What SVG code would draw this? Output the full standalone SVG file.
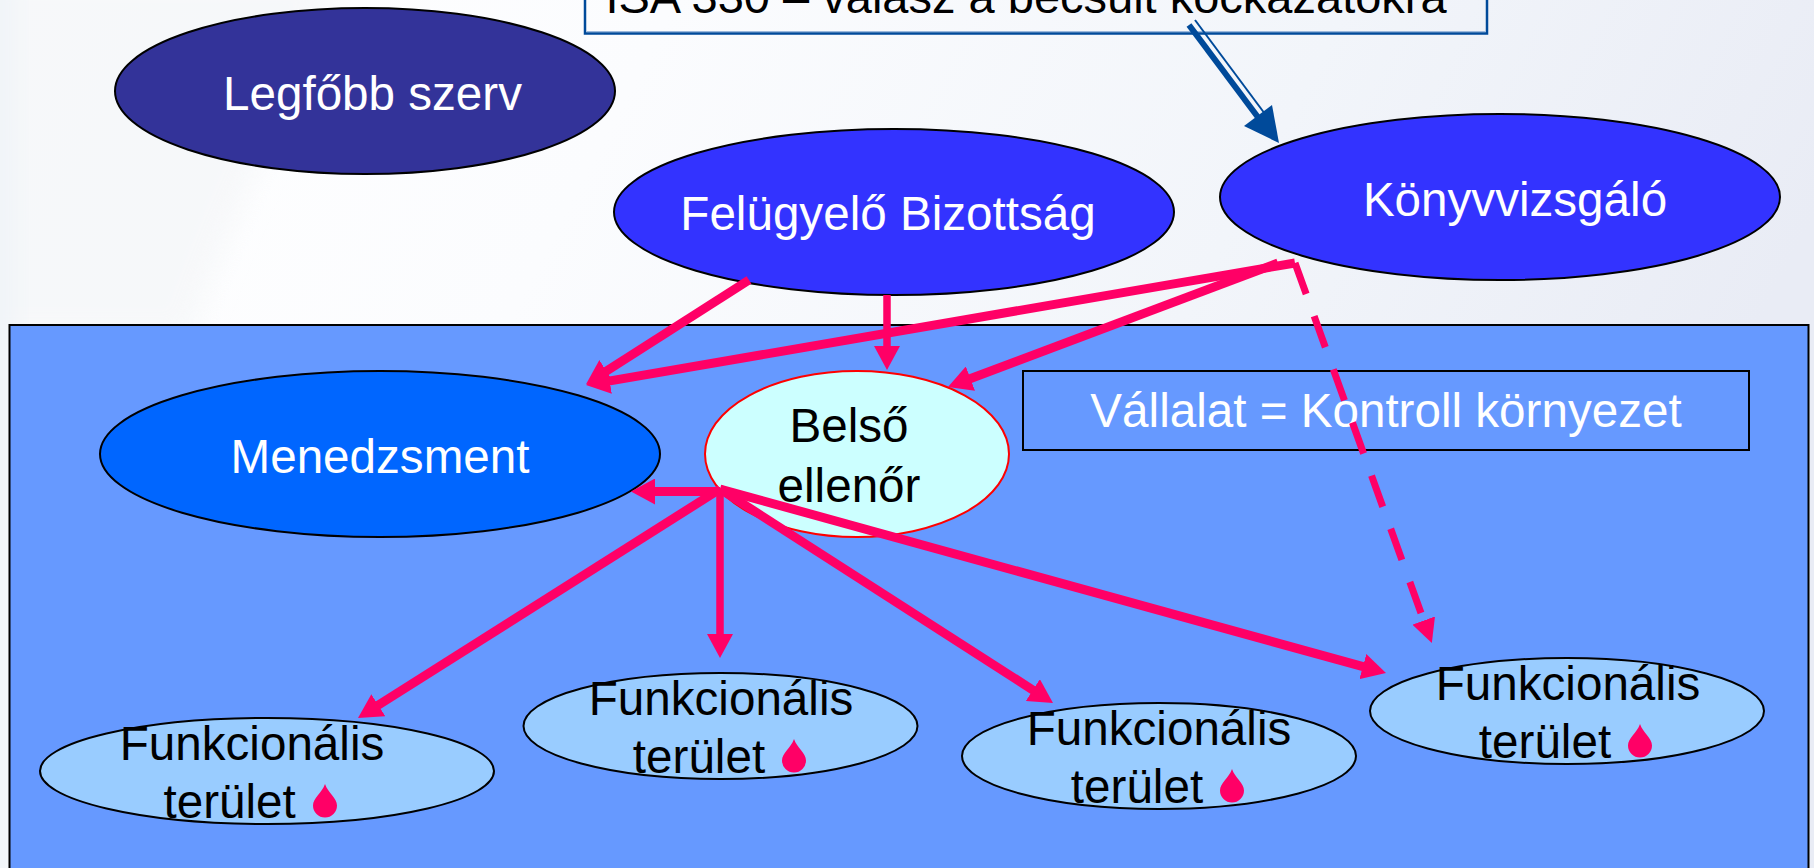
<svg xmlns="http://www.w3.org/2000/svg" width="1814" height="868" viewBox="0 0 1814 868">
<style>
text{font-family:"Liberation Sans",Arial,sans-serif;font-size:47.6px;text-anchor:middle}
.w{fill:#fff}.k{fill:#000}
.n{stroke:#000;stroke-width:2}
.c{fill:none;stroke:#f06;stroke-width:9}
.v{stroke-width:7.5}
.lf{fill:#9cf}
.drop{fill:#f06}
.b{fill:none;stroke:#004a9a}
</style>
<defs>
<linearGradient id="bg" x1="0" y1="0" x2="1" y2="0.25"><stop offset="0" stop-color="#fff"/><stop offset="0.35" stop-color="#fbfcfe"/><stop offset="0.7" stop-color="#f2f5fa"/><stop offset="1" stop-color="#e9ecf5"/></linearGradient>
<filter id="soft" x="-30%" y="-30%" width="160%" height="160%"><feGaussianBlur stdDeviation="14"/></filter>
<marker id="a" markerUnits="userSpaceOnUse" markerWidth="26" markerHeight="26" refX="4" refY="13" orient="auto"><path d="M0 0L24 13L0 26z" fill="#f06"/></marker>
<marker id="d" markerUnits="userSpaceOnUse" markerWidth="24" markerHeight="24" refX="-8" refY="12" orient="auto"><path d="M0 0L24 12L0 24z" fill="#f06"/></marker>
</defs>
<rect width="1814" height="868" fill="url(#bg)"/>
<path d="M-30 -30H340C300 90 240 190 190 340H-30z" fill="#f4f6f8" filter="url(#soft)" opacity="0.7"/>
<rect x="-30" y="-30" width="45" height="920" fill="#f0f4f8" filter="url(#soft)"/>
<g id="vallalat-bg"><rect x="9.5" y="325" width="1799" height="560" fill="#69f" stroke="#000" stroke-width="2"/></g>
<g id="isa"><rect x="585" y="-40" width="902" height="73.5" fill="none" stroke="#004a9a" stroke-width="2.5"/><path d="M586.5 31.5H1485.5" fill="none" stroke="#9db9dc" stroke-width="1"/><text class="k" style="font-size:47px" x="1026" y="13">ISA 330 – válasz a becsült kockázatokra</text></g>
<g id="legfobb"><ellipse class="n" cx="365" cy="91" rx="250" ry="83" fill="#339"/><text class="w" x="372.5" y="110">Legfőbb szerv</text></g>
<g id="felugyelo"><ellipse class="n" cx="894" cy="212" rx="280" ry="83" fill="#33f"/><text class="w" x="888" y="230">Felügyelő Bizottság</text></g>
<g id="konyv"><ellipse class="n" cx="1500" cy="197" rx="280" ry="83" fill="#33f"/><text class="w" x="1515" y="215.5">Könyvvizsgáló</text></g>
<g id="menedzsment"><ellipse class="n" cx="380" cy="454" rx="280" ry="83" fill="#06f"/><text class="w" x="380" y="472.5">Menedzsment</text></g>
<g id="belso"><ellipse cx="857" cy="454" rx="152" ry="83" fill="#cff" stroke="#f00" stroke-width="2"/><text class="k" x="849" y="441.5">Belső</text><text class="k" x="849" y="501.5">ellenőr</text></g>
<g id="vallalat"><rect x="1023" y="371" width="726" height="79" fill="#69f" stroke="#000" stroke-width="2"/><text class="w" x="1386" y="426.5">Vállalat = Kontroll környezet</text></g>
<g id="f1"><ellipse class="n lf" cx="267" cy="771" rx="227" ry="53"/><text class="k" x="252" y="759.5">Funkcionális</text><text class="k" x="229.6" y="818">terület</text><path class="drop" d="M325 784C328 793 337 798 337 805.5A12 12 0 0 1 313 805.5C313 798 322 793 325 784z"/></g>
<g id="f2"><ellipse class="n lf" cx="720.5" cy="726" rx="197" ry="53"/><text class="k" x="721" y="714.5">Funkcionális</text><text class="k" x="699" y="773">terület</text><path class="drop" d="M794 739C797 748 806 753 806 760.5A12 12 0 0 1 782 760.5C782 753 791 748 794 739z"/></g>
<g id="f3"><ellipse class="n lf" cx="1159" cy="756" rx="197" ry="53"/><text class="k" x="1159" y="744.5">Funkcionális</text><text class="k" x="1137" y="803">terület</text><path class="drop" d="M1232 769C1235 778 1244 783 1244 790.5A12 12 0 0 1 1220 790.5C1220 783 1229 778 1232 769z"/></g>
<g id="f4"><ellipse class="n lf" cx="1567" cy="711" rx="197" ry="53"/><text class="k" x="1568" y="699.5">Funkcionális</text><text class="k" x="1545" y="758">terület</text><path class="drop" d="M1640 724C1643 733 1652 738 1652 745.5A12 12 0 0 1 1628 745.5C1628 738 1637 733 1640 724z"/></g>
<g id="connectors">
<path class="c" d="M749 280L603 373.2" marker-end="url(#a)"/>
<path class="c v" d="M887 295V350" marker-end="url(#a)"/>
<path class="c" d="M1295 263L605.7 381.6" marker-end="url(#a)"/>
<path class="c" d="M1278 263L966.7 380" marker-end="url(#a)"/>
<path class="c" style="stroke-width:7" d="M1295 263L1421 613" stroke-dasharray="33 23.5" marker-end="url(#d)"/>
<path class="c" d="M720 491.5H651" marker-end="url(#a)"/>
<path class="c" d="M720 489L374.9 707.3" marker-end="url(#a)"/>
<path class="c v" d="M720 489V638" marker-end="url(#a)"/>
<path class="c" d="M720 489L1036.2 692.2" marker-end="url(#a)"/>
<path class="c" d="M720 489L1366.7 667.7" marker-end="url(#a)"/>
<path class="b" d="M1189 25L1263 124" stroke-width="6"/>
<path class="b" d="M1195 20L1268 118" stroke-width="2"/>
<path d="M1279 143L1272 105L1244 126z" fill="#004a9a"/>
</g>
</svg>
